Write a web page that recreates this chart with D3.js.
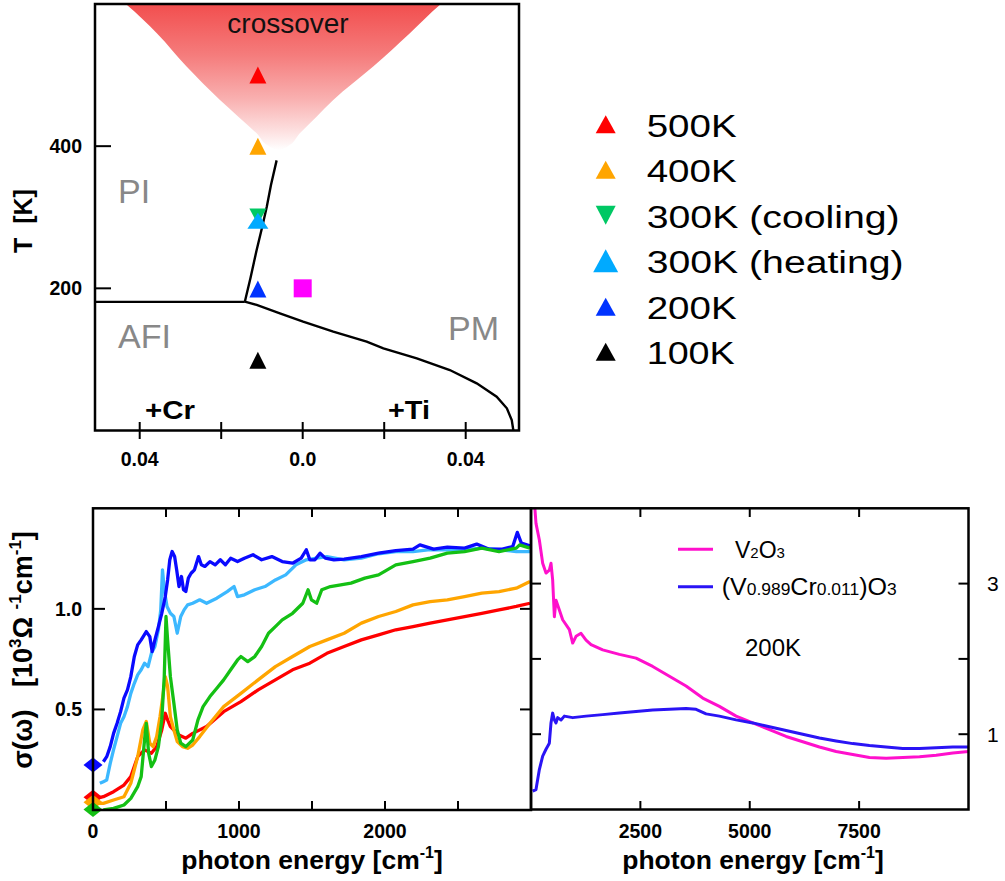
<!DOCTYPE html>
<html><head><meta charset="utf-8">
<script src="https://cdn.jsdelivr.net/npm/d3@7"></script>
<style>body{margin:0;background:#fff} text{font-family:"Liberation Sans",Arial,Helvetica,sans-serif}</style>
</head><body><svg id="c" width="1005" height="881"></svg>
<script>
// ---------------- DATA ----------------
// Phase diagram (doping c, temperature T)
const phaseXTicks = [-0.04, -0.02, 0, 0.02, 0.04];
const phaseXTickLabels = ["0.04", "", "0.0", "", "0.04"];
const phaseYTicks = [200, 400];
const crossoverT     = [610, 599, 559, 512, 465, 441.5, 418, 399, 394];
const crossoverLeft  = [-0.0455, -0.0432, -0.0358, -0.0285, -0.0203, -0.0158, -0.0113, -0.0080, -0.0060];
const crossoverRight = [0.0360, 0.0337, 0.0263, 0.0173, 0.0075, 0.0034, -0.0007, -0.0039, -0.0058];
const linePIPM = [[-0.0064, 380], [-0.0078, 345], [-0.0088, 315], [-0.0100, 285], [-0.0113, 254], [-0.0128, 215], [-0.0142, 181]];
const lineAFIPI = [[-0.052, 181], [-0.0142, 181]];
const lineAFIPM = [[-0.0142, 181.2], [-0.0113, 176.6], [-0.0056, 164.9], [0.0001, 153.1], [0.0075, 139.0], [0.0157, 124.9],
  [0.0198, 115.6], [0.0280, 101.6], [0.0361, 85.1], [0.0427, 66.4], [0.0476, 47.6], [0.0501, 31.2], [0.0513, 14.8], [0.0517, 0]];
const sampleLabels = ["500K", "400K", "300K (cooling)", "300K (heating)", "200K", "100K"];
const sampleT      = [500, 400, 301, 295, 199, 99];
const sampleC      = [-0.011, -0.011, -0.011, -0.011, -0.011, -0.011];
const sampleColors = ["#ff0000", "#ffa500", "#00c864", "#00aaff", "#0033ff", "#000000"];
const sampleDown   = [false, false, true, false, false, false];
const v2o3Point = [0.0, 200];

// Optical conductivity, 0-3000 cm-1 [10^3 Ohm^-1 cm^-1]
const sig200K = [[71,0.240],[94,0.265],[118,0.315],[141,0.381],[165,0.431],[189,0.489],[212,0.556],[236,0.597],[259,0.663],[283,0.763],
 [306,0.821],[330,0.846],[365,0.887],[389,0.862],[405,0.788],[424,0.846],[448,0.912],[471,0.978],[495,1.061],[511,1.144],[526,1.244],
 [542,1.285],[559,1.260],[573,1.194],[589,1.111],[606,1.161],[620,1.095],[636,1.086],[653,1.153],[672,1.177],[695,1.194],[723,1.260],
 [742,1.219],[766,1.211],[801,1.235],[837,1.219],[872,1.244],[907,1.219],[943,1.252],[990,1.235],[1037,1.252],[1096,1.269],[1155,1.244],
 [1225,1.260],[1296,1.235],[1367,1.227],[1426,1.252],[1461,1.294],[1485,1.244],[1520,1.244],[1555,1.277],[1591,1.252],[1650,1.244],
 [1720,1.247],[1838,1.260],[1956,1.277],[2074,1.290],[2192,1.297],[2239,1.318],[2333,1.297],[2427,1.307],[2545,1.302],[2628,1.322],
 [2710,1.297],[2804,1.297],[2875,1.310],[2906,1.380],[2934,1.327],[2993,1.313]];
const sig300Kh = [[47,0.133],[71,0.141],[94,0.149],[118,0.232],[141,0.300],[165,0.365],[189,0.431],[212,0.464],[236,0.514],[259,0.580],
 [283,0.630],[306,0.672],[330,0.697],[353,0.730],[377,0.713],[400,0.779],[424,0.813],[448,0.896],[464,0.995],[476,1.194],[488,1.095],
 [507,1.012],[530,0.978],[554,0.962],[577,0.879],[601,0.962],[624,0.995],[648,1.020],[683,1.028],[731,1.045],[778,1.028],[848,1.053],
 [919,1.086],[966,1.111],[990,1.061],[1037,1.070],[1108,1.095],[1178,1.111],[1249,1.144],[1320,1.169],[1390,1.219],[1461,1.244],
 [1532,1.252],[1602,1.260],[1720,1.244],[1838,1.252],[1956,1.274],[2074,1.285],[2192,1.285],[2309,1.294],[2427,1.294],[2545,1.294],
 [2663,1.302],[2781,1.294],[2899,1.285],[2993,1.285]];
const sig300Kc = [[71,0.000],[141,0.008],[212,0.025],[259,0.058],[306,0.116],[330,0.166],[353,0.348],[365,0.431],[381,0.282],[400,0.216],
 [424,0.249],[448,0.315],[471,0.448],[488,0.663],[500,0.962],[511,0.846],[530,0.663],[554,0.531],[577,0.398],[601,0.332],[636,0.315],
 [683,0.348],[719,0.448],[754,0.514],[801,0.564],[848,0.605],[895,0.647],[943,0.697],[990,0.746],[1013,0.763],[1060,0.738],[1108,0.763],
 [1155,0.813],[1202,0.879],[1249,0.912],[1296,0.945],[1367,0.978],[1437,1.028],[1473,1.095],[1496,1.045],[1532,1.028],[1567,1.095],
 [1626,1.111],[1697,1.119],[1767,1.128],[1862,1.153],[1956,1.169],[2074,1.219],[2192,1.235],[2309,1.252],[2427,1.277],[2545,1.285],
 [2663,1.302],[2781,1.285],[2899,1.302],[2922,1.318],[2993,1.302]];
const sig400K = [[24,0.033],[71,0.033],[141,0.050],[212,0.066],[259,0.133],[306,0.265],[341,0.398],[365,0.440],[389,0.332],[412,0.315],
 [436,0.365],[459,0.464],[478,0.564],[495,0.663],[511,0.614],[530,0.464],[554,0.398],[577,0.340],[613,0.315],[648,0.307],[683,0.323],
 [731,0.365],[801,0.431],[895,0.514],[1013,0.580],[1131,0.647],[1249,0.713],[1367,0.763],[1485,0.813],[1602,0.846],[1720,0.879],
 [1838,0.929],[1956,0.962],[2074,0.987],[2192,1.020],[2309,1.036],[2427,1.045],[2545,1.061],[2663,1.078],[2781,1.086],[2899,1.103],[2993,1.136]];
const sig500K = [[24,0.058],[71,0.066],[141,0.091],[212,0.124],[259,0.166],[306,0.265],[353,0.299],[400,0.282],[436,0.315],[471,0.398],
 [495,0.481],[511,0.448],[530,0.415],[554,0.398],[589,0.373],[636,0.357],[683,0.381],[778,0.415],[895,0.489],[1013,0.539],[1131,0.597],
 [1249,0.647],[1367,0.697],[1485,0.730],[1602,0.779],[1720,0.813],[1838,0.846],[1956,0.871],[2074,0.896],[2192,0.912],[2309,0.929],
 [2427,0.945],[2545,0.962],[2663,0.978],[2781,0.995],[2899,1.012],[2993,1.028]];
const dcValues = [0.224, 0.063, 0.038, 0.003];
const dcColors = ["#0a0aff", "#ff0000", "#ffa500", "#14c014"];

// Optical conductivity at 200K, 0-10000 cm-1
const sigV2O3 = [[76,4.10],[114,3.80],[191,3.58],[267,3.27],[343,3.14],[419,3.18],[457,3.27],[495,3.05],[534,2.56],[572,2.78],[648,2.65],
 [724,2.52],[877,2.39],[953,2.21],[1029,2.30],[1143,2.34],[1258,2.25],[1372,2.19],[1639,2.12],[2020,2.06],[2401,2.01],[2782,1.90],
 [3163,1.77],[3544,1.64],[3925,1.48],[4306,1.37],[4688,1.24],[5069,1.15],[5450,1.06],[5831,0.97],[6212,0.90],[6593,0.83],[6974,0.77],
 [7355,0.73],[7736,0.69],[8117,0.68],[8498,0.69],[8880,0.70],[9261,0.72],[9642,0.75],[10000,0.77]];
const sigVCr = [[38,0.243],[114,0.265],[191,0.53],[267,0.71],[343,0.80],[419,0.88],[457,1.15],[495,1.28],[534,1.19],[572,1.15],[610,1.22],
 [686,1.19],[762,1.24],[953,1.22],[1258,1.24],[1639,1.26],[2020,1.28],[2401,1.30],[2782,1.32],[3163,1.33],[3544,1.34],[3773,1.33],
 [4002,1.27],[4306,1.24],[4688,1.19],[5069,1.15],[5450,1.10],[5831,1.05],[6212,1.00],[6593,0.95],[6974,0.91],[7355,0.875],[7736,0.85],
 [8117,0.83],[8498,0.81],[8880,0.81],[9261,0.82],[9642,0.83],[10000,0.83]];
const leftXTicks = [0, 500, 1000, 1500, 2000, 2500];
const leftXLabels = {0: "0", 1000: "1000", 2000: "2000"};
const leftYTicks = [0.5, 1.0];
const rightXTicks = [2500, 5000, 7500];
const rightYTicks = [1, 2, 3];
const rightYLabels = {1: "1", 3: "3"};

// ---------------- DRAW ----------------
const svg = d3.select("#c");
svg.append("rect").attr("width", 1005).attr("height", 881).attr("fill", "#fff");
const defs = svg.append("defs");

function tri(w, h, down) {
  return {draw(ctx) {
    const s = down ? -1 : 1;
    ctx.moveTo(0, -s * h / 2); ctx.lineTo(w / 2, s * h / 2); ctx.lineTo(-w / 2, s * h / 2); ctx.closePath();
  }};
}
function diamond(w, h) {
  return {draw(ctx) { ctx.moveTo(0, -h / 2); ctx.lineTo(w / 2, 0); ctx.lineTo(0, h / 2); ctx.lineTo(-w / 2, 0); ctx.closePath(); }};
}
function square(w) {
  return {draw(ctx) { ctx.rect(-w / 2, -w / 2, w, w); }};
}

// ===== Top: phase diagram =====
const px = d3.scaleLinear().domain([-0.05097, 0.05308]).range([95, 519]);
const py = d3.scaleLinear().domain([0, 600]).range([430.5, 4]);
defs.append("clipPath").attr("id", "clipTop").append("rect")
  .attr("x", 95).attr("y", 4).attr("width", 424).attr("height", 426.5);
const grad = defs.append("linearGradient").attr("id", "gradX").attr("gradientUnits", "userSpaceOnUse")
  .attr("x1", 0).attr("x2", 0).attr("y1", 4).attr("y2", 150);
[[0, "#f24e4e"], [0.35, "#f57c7c"], [0.65, "#f9b0b0"], [0.88, "#fde2e2"], [1, "#ffffff"]]
  .forEach(([o, c]) => grad.append("stop").attr("offset", o).attr("stop-color", c));
const gt = svg.append("g");
const crossData = crossoverT.map((t, i) => ({t, l: crossoverLeft[i], r: crossoverRight[i]}));
gt.append("path").attr("clip-path", "url(#clipTop)")
  .attr("d", d3.area().curve(d3.curveMonotoneY).y(d => py(d.t)).x0(d => px(d.l)).x1(d => px(d.r))(crossData))
  .attr("fill", "url(#gradX)");
const pline = d3.line().x(d => px(d[0])).y(d => py(d[1]));
[linePIPM, lineAFIPI, lineAFIPM].forEach(L =>
  gt.append("path").attr("clip-path", "url(#clipTop)").attr("d", pline(L))
    .attr("fill", "none").attr("stroke", "#000").attr("stroke-width", 2.4));
// markers
sampleT.forEach((t, i) => {
  const w = i === 3 ? 21 : 17, h = i === 3 ? 16 : (sampleDown[i] ? 16 : 17);
  gt.append("path").attr("transform", `translate(${px(sampleC[i])},${py(t)})`)
    .attr("d", d3.symbol().type(tri(w, h, sampleDown[i]))()).attr("fill", sampleColors[i]);
});
gt.append("path").attr("transform", `translate(${px(v2o3Point[0])},${py(v2o3Point[1])})`)
  .attr("d", d3.symbol().type(square(18))()).attr("fill", "#ff00ff");
// frame
gt.append("rect").attr("x", 95).attr("y", 4).attr("width", 424).attr("height", 426.5)
  .attr("fill", "none").attr("stroke", "#000").attr("stroke-width", 2.5);
phaseXTicks.forEach((v, i) => {
  gt.append("line").attr("x1", px(v)).attr("x2", px(v)).attr("y1", 422).attr("y2", 439)
    .attr("stroke", "#000").attr("stroke-width", 2);
  if (phaseXTickLabels[i]) gt.append("text").attr("x", px(v)).attr("y", 466).attr("text-anchor", "middle")
    .attr("font-size", 19.5).attr("font-weight", "bold").text(phaseXTickLabels[i]);
});
phaseYTicks.forEach(v => {
  gt.append("line").attr("x1", 95).attr("x2", 111).attr("y1", py(v)).attr("y2", py(v))
    .attr("stroke", "#000").attr("stroke-width", 2);
  gt.append("text").attr("x", 82).attr("y", py(v)).attr("dy", "0.36em").attr("text-anchor", "end")
    .attr("font-size", 19.5).attr("font-weight", "bold").text(v);
});
gt.append("text").attr("transform", "translate(31.5,221) rotate(-90)").attr("text-anchor", "middle")
  .attr("font-size", 25).attr("font-weight", "bold").style("white-space", "pre").text("T  [K]");
gt.append("text").attr("x", 288).attr("y", 33).attr("text-anchor", "middle").attr("font-size", 28).attr("fill", "#111").text("crossover");
[["PI", 118, 202.7], ["AFI", 118, 348.3], ["PM", 448, 340]].forEach(([t, x, y]) =>
  gt.append("text").attr("x", x).attr("y", y).attr("font-size", 34).attr("fill", "#888").text(t));
[["+Cr", 145, 419, 50], ["+Ti", 388, 419, 42]].forEach(([t, x, y, L]) =>
  gt.append("text").attr("x", x).attr("y", y).attr("font-size", 26).attr("font-weight", "bold")
    .attr("textLength", L).attr("lengthAdjust", "spacingAndGlyphs").text(t));

// legend (top right)
const legY = [136.7, 182.3, 227.7, 273.3, 319.3, 364.3];
const legLen = [90, 90, 253, 257, 90, 88];
sampleLabels.forEach((lab, i) => {
  const w = i === 3 ? 25 : 20, h = i === 3 ? 23 : (sampleDown[i] ? 19 : 18);
  svg.append("path").attr("transform", `translate(605.7,${legY[i] - 12.5})`)
    .attr("d", d3.symbol().type(tri(w, h, sampleDown[i]))()).attr("fill", sampleColors[i]);
  svg.append("text").attr("x", 646.7).attr("y", legY[i]).attr("font-size", 31)
    .attr("textLength", legLen[i]).attr("lengthAdjust", "spacingAndGlyphs").text(lab);
});

// ===== Bottom-left =====
const lx = d3.scaleLinear().domain([0, 3000]).range([93, 531]);
const ly = d3.scaleLinear().domain([0, 1.5]).range([810, 508.3]);
defs.append("clipPath").attr("id", "clipL").append("rect").attr("x", 93).attr("y", 508.3).attr("width", 438).attr("height", 301.7);
const gl = svg.append("g");
const lline = d3.line().x(d => lx(d[0])).y(d => ly(d[1]));
[[sig300Kh, "#3cb8ff"], [sig200K, "#0a0aff"], [sig500K, "#ff0000"], [sig400K, "#ffa500"], [sig300Kc, "#14c014"]].forEach(([s, c]) =>
  gl.append("path").attr("clip-path", "url(#clipL)").attr("d", lline(s)).attr("fill", "none")
    .attr("stroke", c).attr("stroke-width", 3.3).attr("stroke-linejoin", "round"));
dcValues.forEach((v, i) =>
  gl.append("path").attr("transform", `translate(${lx(0)},${ly(v)})`).attr("d", d3.symbol().type(diamond(19, 15))())
    .attr("fill", dcColors[i]));
gl.append("rect").attr("x", 93).attr("y", 508.3).attr("width", 438).attr("height", 301.7)
  .attr("fill", "none").attr("stroke", "#000").attr("stroke-width", 2.5);
leftXTicks.forEach(v => {
  if (v > 0) {
    gl.append("line").attr("x1", lx(v)).attr("x2", lx(v)).attr("y1", 810).attr("y2", 801).attr("stroke", "#000").attr("stroke-width", 2);
    gl.append("line").attr("x1", lx(v)).attr("x2", lx(v)).attr("y1", 508.3).attr("y2", 517).attr("stroke", "#000").attr("stroke-width", 2);
  }
  if (leftXLabels[v] !== undefined) gl.append("text").attr("x", lx(v)).attr("y", 838).attr("text-anchor", "middle")
    .attr("font-size", 19.5).attr("font-weight", "bold").text(leftXLabels[v]);
});
leftYTicks.forEach(v => {
  gl.append("line").attr("x1", 93).attr("x2", 105).attr("y1", ly(v)).attr("y2", ly(v)).attr("stroke", "#000").attr("stroke-width", 2);
  gl.append("line").attr("x1", 531).attr("x2", 520).attr("y1", ly(v)).attr("y2", ly(v)).attr("stroke", "#000").attr("stroke-width", 2);
  gl.append("text").attr("x", 82).attr("y", ly(v)).attr("dy", "0.36em").attr("text-anchor", "end")
    .attr("font-size", 19.5).attr("font-weight", "bold").text(v.toFixed(1));
});
function energyTitle(g, cx) {
  const t = g.append("text").attr("x", cx).attr("y", 869).attr("text-anchor", "middle")
    .attr("font-size", 26.5).attr("font-weight", "bold");
  t.append("tspan").text("photon energy [cm");
  t.append("tspan").attr("font-size", 16).attr("dy", -11).text("-1");
  t.append("tspan").attr("dy", 11).text("]");
}
energyTitle(gl, 312);
{
  const t = gl.append("text").attr("transform", "translate(32,650) rotate(-90)").attr("text-anchor", "middle")
    .attr("font-size", 27).attr("font-weight", "bold").style("white-space", "pre");
  t.append("tspan").text("σ(ω)   [10");
  t.append("tspan").attr("font-size", 17).attr("dy", -11).text("3");
  t.append("tspan").attr("dy", 11).text("Ω ");
  t.append("tspan").attr("font-size", 17).attr("dy", -11).text("-1");
  t.append("tspan").attr("dy", 11).text("cm");
  t.append("tspan").attr("font-size", 17).attr("dy", -11).text("-1");
  t.append("tspan").attr("dy", 11).text("]");
}

// ===== Bottom-right =====
const rx = d3.scaleLinear().domain([0, 10000]).range([531, 968.5]);
const ry = d3.scaleLinear().domain([0, 4]).range([809.5, 508.3]);
defs.append("clipPath").attr("id", "clipR").append("rect").attr("x", 531).attr("y", 508.3).attr("width", 437.5).attr("height", 301.7);
const gr = svg.append("g");
const rline = d3.line().x(d => rx(d[0])).y(d => ry(d[1]));
[[sigV2O3, "#ff10cc"], [sigVCr, "#2a14f5"]].forEach(([s, c]) =>
  gr.append("path").attr("clip-path", "url(#clipR)").attr("d", rline(s)).attr("fill", "none")
    .attr("stroke", c).attr("stroke-width", 3).attr("stroke-linejoin", "round"));
gr.append("rect").attr("x", 531).attr("y", 508.3).attr("width", 437.5).attr("height", 301.2)
  .attr("fill", "none").attr("stroke", "#000").attr("stroke-width", 2.5);
rightXTicks.forEach(v => {
  gr.append("line").attr("x1", rx(v)).attr("x2", rx(v)).attr("y1", 809.5).attr("y2", 801).attr("stroke", "#000").attr("stroke-width", 2);
  gr.append("line").attr("x1", rx(v)).attr("x2", rx(v)).attr("y1", 508.3).attr("y2", 517).attr("stroke", "#000").attr("stroke-width", 2);
  gr.append("text").attr("x", rx(v)).attr("y", 838).attr("text-anchor", "middle")
    .attr("font-size", 19.5).attr("font-weight", "bold").text(v);
});
rightYTicks.forEach(v => {
  gr.append("line").attr("x1", 531).attr("x2", 541).attr("y1", ry(v)).attr("y2", ry(v)).attr("stroke", "#000").attr("stroke-width", 2);
  gr.append("line").attr("x1", 968.5).attr("x2", 958.5).attr("y1", ry(v)).attr("y2", ry(v)).attr("stroke", "#000").attr("stroke-width", 2);
  if (rightYLabels[v]) gr.append("text").attr("x", 987).attr("y", ry(v)).attr("dy", "0.36em")
    .attr("font-size", 21).text(rightYLabels[v]);
});
energyTitle(gr, 753);
// legend
gr.append("line").attr("x1", 678).attr("x2", 713).attr("y1", 549.3).attr("y2", 549.3).attr("stroke", "#ff10cc").attr("stroke-width", 3);
gr.append("line").attr("x1", 678).attr("x2", 713).attr("y1", 586.7).attr("y2", 586.7).attr("stroke", "#2a14f5").attr("stroke-width", 3);
{
  const t = gr.append("text").attr("x", 735).attr("y", 558).attr("font-size", 23);
  t.append("tspan").text("V"); t.append("tspan").attr("font-size", 15).text("2");
  t.append("tspan").text("O"); t.append("tspan").attr("font-size", 15).text("3");
  const u = gr.append("text").attr("x", 721.7).attr("y", 595).attr("font-size", 23)
    .attr("textLength", 175).attr("lengthAdjust", "spacingAndGlyphs");
  u.append("tspan").text("(V"); u.append("tspan").attr("font-size", 16).text("0.989");
  u.append("tspan").text("Cr"); u.append("tspan").attr("font-size", 16).text("0.011");
  u.append("tspan").text(")O"); u.append("tspan").attr("font-size", 16).text("3");
}
gr.append("text").attr("x", 745).attr("y", 655.7).attr("font-size", 24).text("200K");
</script></body></html>
